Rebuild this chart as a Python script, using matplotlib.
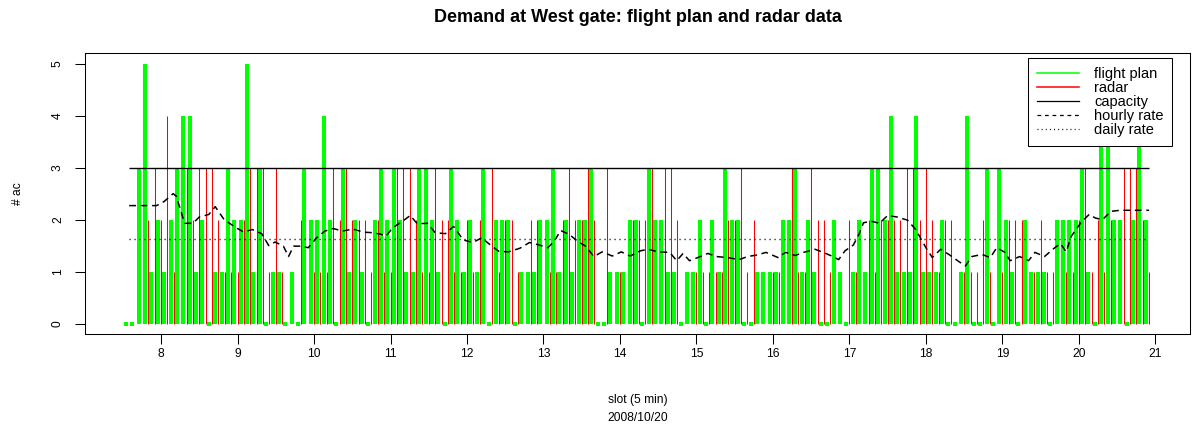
import numpy as np
import matplotlib.pyplot as plt
from matplotlib.lines import Line2D

plt.rcParams['font.family'] = ['Liberation Sans', 'DejaVu Sans']

# aircraft per 5 min slot, slot 0 starts at 7:30
flight_plan = [
    0, 0, 3, 5, 1, 2, 1, 2, 3, 4, 4, 1, 2, 0, 1, 1, 3, 2, 2, 5,
    1, 3, 0, 1, 1, 0, 1, 0, 3, 2, 2, 4, 2, 0, 3, 1, 2, 1, 0, 2,
    3, 2, 3, 2, 1, 1, 3, 3, 2, 1, 0, 3, 2, 1, 2, 1, 3, 0, 2, 2,
    2, 0, 1, 1, 1, 2, 2, 3, 1, 2, 1, 2, 2, 3, 0, 0, 1, 1, 1, 2,
    2, 0, 3, 2, 2, 1, 1, 0, 1, 1, 2, 0, 2, 1, 3, 2, 2, 0, 0, 1,
    1, 1, 1, 2, 2, 3, 1, 2, 1, 0, 0, 2, 1, 0, 1, 2, 1, 3, 3, 2,
    4, 1, 1, 1, 4, 1, 1, 1, 2, 0, 0, 1, 4, 0, 0, 3, 0, 3, 2, 1,
    0, 2, 1, 1, 1, 0, 2, 2, 2, 2, 3, 1, 0, 4, 4, 2, 2, 0, 2, 4, 2,
]
radar = [
    0, 0, 0, 2, 3, 2, 4, 1, 0, 3, 2, 3, 3, 3, 2, 1, 1, 1, 2, 3,
    3, 3, 1, 3, 1, 0, 0, 2, 0, 1, 1, 1, 3, 2, 3, 2, 2, 2, 1, 2,
    1, 1, 3, 3, 3, 2, 1, 1, 3, 2, 2, 1, 1, 2, 1, 2, 0, 3, 1, 2,
    2, 1, 0, 2, 2, 0, 1, 1, 2, 3, 2, 2, 3, 2, 0, 3, 0, 1, 0, 2,
    2, 2, 3, 0, 3, 3, 2, 0, 0, 1, 1, 1, 1, 1, 2, 2, 3, 1, 2, 0,
    0, 1, 1, 0, 3, 1, 1, 3, 2, 2, 1, 0, 0, 2, 1, 0, 2, 1, 2, 2,
    2, 2, 3, 3, 2, 3, 2, 1, 2, 2, 0, 1, 1, 1, 2, 1, 0, 1, 2, 2,
    2, 0, 1, 2, 1, 1, 0, 1, 1, 2, 3, 1, 2, 1, 2, 0, 3, 3, 3, 2, 1,
]
capacity = 3.0
daily_rate = 1.62

hourly_slot = [
    0.5, 4.8, 6, 7.4, 7.9, 9.2, 10.5, 11.5, 13, 14, 15.4, 17.2, 18.5, 19.8,
    21.3, 22.4, 23.4, 24.7, 25.5, 26.3, 27.5, 28.6, 29.9, 31.2, 32.5, 34,
    35.6, 37.2, 38.5, 40, 40.8, 41.8, 43.4, 44.6, 45.7, 47.3, 48.5, 50.1,
    51.4, 52.9, 54.4, 55.8, 57.4, 58.5, 60, 61.8, 63.3, 64.6, 66.2, 67.2,
    68.2, 69.5, 70.8, 72.1, 73.4, 74.7, 76.3, 77.7, 79.1, 80.7, 81.9, 83.5,
    85.3, 86.4, 87.4, 88.4, 89.7, 91.3, 92.6, 94.4, 96.2, 97.5, 99, 100.4,
    102.3, 103.5, 105, 106.3, 108.1, 109.4, 110.9, 111.8, 112.8, 114.1, 115,
    115.7, 116.9, 118.2, 119.5, 121, 122.6, 123.9, 125.5, 126.5, 127.8,
    129.1, 130.7, 131.7, 132.7, 134.3, 135.6, 136.6, 137.9, 138.7, 140.2,
    141.6, 142.6, 144.1, 145.4, 146.6, 147.5, 148.3, 149.8, 151.1, 152.1,
    153.2, 154.5, 156, 158.1, 160.5,
]
hourly_rate = [
    2.27, 2.27, 2.35, 2.5, 2.45, 1.93, 1.93, 2.05, 2.1, 2.25, 2.0, 1.85, 1.76, 1.81,
    1.73, 1.5, 1.57, 1.49, 1.29, 1.49, 1.49, 1.46, 1.65, 1.78, 1.83, 1.78,
    1.82, 1.76, 1.75, 1.72, 1.68, 1.84, 1.97, 2.08, 1.92, 1.93, 1.75, 1.73,
    1.87, 1.61, 1.56, 1.65, 1.49, 1.39, 1.38, 1.45, 1.56, 1.52, 1.46, 1.59,
    1.79, 1.72, 1.59, 1.49, 1.29, 1.38, 1.30, 1.38, 1.30, 1.40, 1.43, 1.38,
    1.37, 1.21, 1.35, 1.21, 1.27, 1.35, 1.29, 1.27, 1.23, 1.29, 1.32, 1.37,
    1.27, 1.37, 1.31, 1.37, 1.43, 1.37, 1.29, 1.23, 1.40, 1.51, 1.72,
    1.94, 1.97, 1.93, 2.08, 2.05, 1.99, 1.81, 1.46, 1.27, 1.43,
    1.33, 1.19, 1.11, 1.29, 1.33, 1.27, 1.46, 1.37, 1.21, 1.29,
    1.21, 1.37, 1.29, 1.43, 1.54, 1.38, 1.68, 1.94, 2.10, 2.03,
    2.00, 2.16, 2.18, 2.18, 2.18,
]
hour_ticks = list(range(8, 22))


def slot_to_hour(k):
    return 7.5 + (np.asarray(k, dtype=float) + 0.5) / 12.0


W, H = 1194, 437
fig = plt.figure(figsize=(W / 100, H / 100), dpi=100)
ax = fig.add_axes([85 / W, 1 - 334 / H, 1105 / W, 280.7 / H])

fp = np.array(flight_plan)
rd = np.array(radar)
k = np.arange(len(fp))
x_fp = slot_to_hour(k)
x_rd = slot_to_hour(k + 0.5)

green = '#00ff00'
nz = fp > 0
ax.vlines(x_fp[nz], 0, fp[nz], color=green, lw=2.9)
ax.plot(x_fp[~nz], fp[~nz], 's', color=green, ms=3.0, mew=0)
ax.vlines(x_rd[rd > 0], 0, rd[rd > 0], color='#ff0000', lw=0.75)

ax.hlines(capacity, x_rd[0], x_rd[-1], color='black', lw=1.0)
ax.plot(slot_to_hour(hourly_slot), hourly_rate, color='black', lw=1.1,
        dashes=(4.5, 3))
ax.hlines(daily_rate, x_rd[0], x_rd[-1], color='black', lw=1.0,
          linestyles=(0, (0.8, 2.8)))

ax.set_xlim(7.006, 21.452)
ax.set_ylim(-0.2, 5.2)
ax.set_xticks(hour_ticks)
ax.set_yticks(range(6))
ax.set_yticklabels([str(v) for v in range(6)], rotation=90, va='center')
ax.tick_params(axis='both', length=7.2, width=0.75, labelsize=8.64, color='black')
ax.tick_params(axis='x', pad=3)
ax.tick_params(axis='y', pad=8)
for s in ax.spines.values():
    s.set_linewidth(0.75)

handles = [
    Line2D([], [], color=green, lw=1.1),
    Line2D([], [], color='#ff0000', lw=1.1),
    Line2D([], [], color='black', lw=0.9),
    Line2D([], [], color='black', lw=0.9, dashes=(3, 3)),
    Line2D([], [], color='black', lw=0.9, dashes=(0.8, 2.5)),
]
labels = ['flight plan', 'radar', 'capacity', 'hourly rate', 'daily rate']
leg = ax.legend(handles, labels, loc='upper right', bbox_to_anchor=(0.984, 0.983),
                fontsize=10.5, frameon=True, fancybox=False, edgecolor='black',
                framealpha=1, borderpad=0.6, labelspacing=0.0, handlelength=2.9,
                handletextpad=1.0, borderaxespad=0)
leg.get_frame().set_linewidth(0.75)

fig.text(637.5 / W, 1 - 17 / H, 'Demand at West gate: flight plan and radar data',
         ha='center', va='center', fontsize=13, weight='bold')
fig.text(637.5 / W, 1 - 400 / H, 'slot (5 min)', ha='center', va='center', fontsize=8.64)
fig.text(637.5 / W, 1 - 418 / H, '2008/10/20', ha='center', va='center', fontsize=8.64)
fig.text(18 / W, 1 - 193.7 / H, '# ac', ha='center', va='center', rotation=90, fontsize=8.64)

fig.savefig('out.png', dpi=100)
